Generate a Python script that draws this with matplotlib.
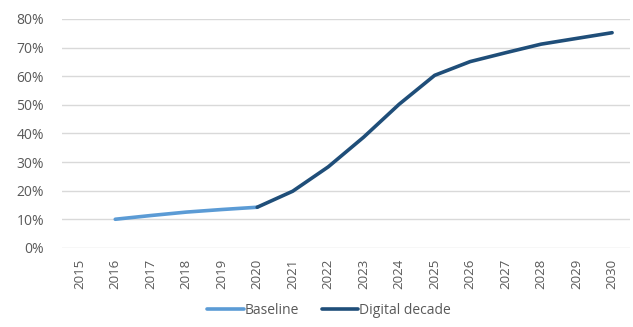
import matplotlib.pyplot as plt

years = [str(y) for y in range(2015, 2031)]
baseline_years = ['2016', '2017', '2018', '2019', '2020']
baseline = [10.0, 11.3, 12.5, 13.4, 14.2]
digital_years = ['2020', '2021', '2022', '2023', '2024', '2025',
                 '2026', '2027', '2028', '2029', '2030']
digital = [14.2, 19.8, 28.3, 38.7, 50.2, 60.3, 65.1, 68.2, 71.2, 73.2, 75.2]
yticks = [0, 10, 20, 30, 40, 50, 60, 70, 80]

plt.rcParams['font.family'] = ['Open Sans', 'DejaVu Sans']
grey = '#595959'

fig = plt.figure(figsize=(6.33, 3.27), dpi=100)
ax = fig.add_axes([0.098, 0.242, 0.897, 0.70])

idx = {y: i for i, y in enumerate(years)}
ax.plot([idx[y] for y in baseline_years], baseline, color='#5B9BD5', lw=2.6,
        solid_capstyle='round', label='Baseline')
ax.plot([idx[y] for y in digital_years], digital, color='#1F4E79', lw=2.6,
        solid_capstyle='round', label='Digital decade')

ax.set_xlim(-0.5, len(years) - 0.5)
ax.set_ylim(0, 80)
ax.set_xticks(range(len(years)))
ax.set_xticklabels(years, rotation=90)
ax.set_yticks(yticks)
ax.set_yticklabels([f'{v}%' for v in yticks])
ax.tick_params(axis='both', length=0, colors=grey)
ax.tick_params(axis='x', pad=8, labelsize=9.5)
ax.tick_params(axis='y', pad=13, labelsize=10)
ax.grid(axis='y', color='#D9D9D9', lw=1)
ax.set_axisbelow(True)
for s in ax.spines.values():
    s.set_visible(False)

leg = fig.legend(loc='lower center', bbox_to_anchor=(0.52, -0.01), ncol=2,
                 frameon=False, fontsize=10, handlelength=2.6,
                 handletextpad=0.1, columnspacing=1.6)
for t in leg.get_texts():
    t.set_color(grey)

fig.savefig('out.png', dpi=100)
